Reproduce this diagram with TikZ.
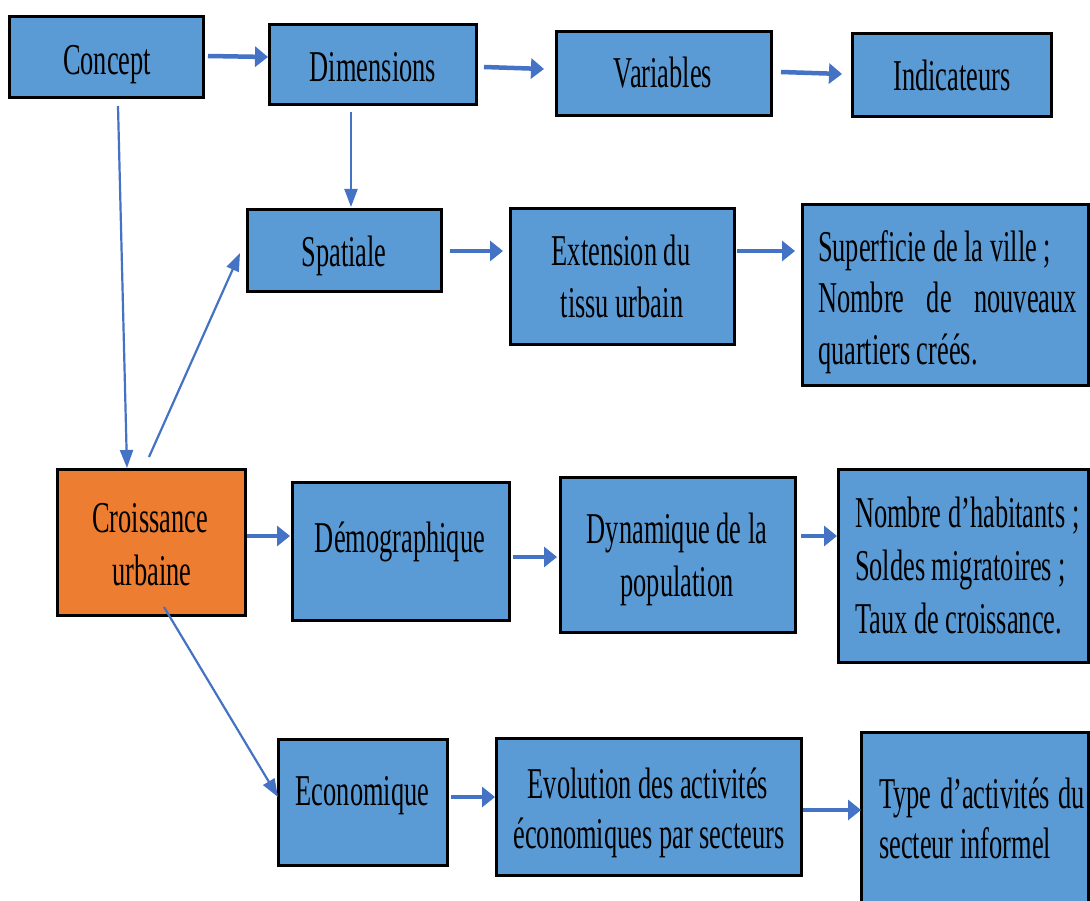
\documentclass[tikz,border=0pt]{standalone}
\usepackage{fontspec}
\setmainfont{Liberation Serif}[FakeStretch=0.6]
\usetikzlibrary{arrows.meta,calc}
\definecolor{boxblue}{HTML}{5B9BD5}
\definecolor{boxorange}{HTML}{ED7D31}
\definecolor{arrowblue}{HTML}{4472C4}
\tikzset{
  box/.style={draw=black, line width=3pt, fill=boxblue, inner sep=0pt, outer sep=0pt},
  obox/.style={box, fill=boxorange},
  txt/.style={font=\fontsize{44}{52}\selectfont, inner sep=0pt, outer sep=0pt, anchor=base, text=black},
  ltxt/.style={txt, anchor=base west},
  thickarrow/.style={draw=arrowblue, line width=4.5pt, -{Triangle[length=13pt,width=20pt]}},
  thinarrow/.style={draw=arrowblue, line width=2.2pt, -{Triangle[length=18pt,width=13pt]}}
}
\begin{document}
\begin{tikzpicture}[x=1pt,y=-1pt]
\fill[white] (0,0) rectangle (1090,901);
\useasboundingbox (0,0) rectangle (1090,901);
% boxes
\node[box, minimum width=194pt, minimum height=81pt] (con) at (106.5,57) {};
\node[box, minimum width=207pt, minimum height=80pt] (dim) at (373,64.5) {};
\node[box, minimum width=215pt, minimum height=84pt] (var) at (664,73.5) {};
\node[box, minimum width=199pt, minimum height=83pt] (ind) at (952,75) {};
\node[box, minimum width=194pt, minimum height=82pt] (spa) at (344.5,250.5) {};
\node[box, minimum width=224pt, minimum height=136pt] (ext) at (622.5,276.5) {};
\node[box, minimum width=286pt, minimum height=181pt] (sup) at (945.5,295) {};
\node[obox, minimum width=188pt, minimum height=146pt] (cro) at (151.5,542.5) {};
\node[box, minimum width=217pt, minimum height=138pt] (dem) at (401,551.5) {};
\node[box, minimum width=235pt, minimum height=155pt] (dyn) at (678,555) {};
\node[box, minimum width=250pt, minimum height=193pt] (nom) at (963.5,566) {};
\node[box, minimum width=169pt, minimum height=126pt] (eco) at (363,802.5) {};
\node[box, minimum width=305pt, minimum height=137pt] (evo) at (649,807) {};
\node[box, minimum width=227pt, minimum height=186pt] (typ) at (975,825.5) {};
% texts
\node[txt] (tcon) at (107,75) {Concept};
\node[txt] (tdim) at (373,82) {Dimensions};
\node[txt] (tvar) at (663,88) {Variables};
\node[txt] (tind) at (952,91) {Indicateurs};
\node[txt] (tspa) at (344,267) {Spatiale};
\node[txt] (text1) at (621,266) {Extension du};
\node[txt] (text2) at (622,318) {tissu urbain};
\node[ltxt] (tsup1) at (818,262) {Superficie de la ville ;};
\node[ltxt] (tsup2) at (818,313) {\hbox to 259pt{Nombre\hfill de\hfill nouveaux}};
\node[ltxt] (tsup3) at (818,365) {quartiers créés.};
\node[txt] (tcro1) at (150,532) {Croissance};
\node[txt] (tcro2) at (152,585) {urbaine};
\node[txt] (tdem) at (400,552) {Démographique};
\node[txt] (tdyn1) at (677,543) {Dynamique de la};
\node[txt] (tdyn2) at (677,596) {population};
\node[ltxt] (tnom1) at (855,527) {Nombre d’habitants ;};
\node[ltxt] (tnom2) at (855,580) {Soldes migratoires ;};
\node[ltxt] (tnom3) at (855,633) {Taux de croissance.};
\node[txt] (teco) at (362.5,805) {Economique};
\node[txt] (tevo1) at (648,798) {Evolution des activités};
\node[txt] (tevo2) at (649,848) {économiques par secteurs};
\node[ltxt] (ttyp1) at (879,808) {\hbox to 206pt{Type\hfill\ d’activités\hfill\ du}};
\node[ltxt] (ttyp2) at (879,858) {secteur informel};
% connectors
\draw[thickarrow] ($(con.east)+(4.5,-1)$) -- ($(dim.west)+(-1.5,-7.5)$);
\draw[thickarrow] ($(dim.east)+(7.5,2.5)$) -- ($(var.west)+(-12.5,-4.5)$);
\draw[thickarrow] ($(var.east)+(9.5,-1.5)$) -- ($(ind.west)+(-10.5,-1)$);
\draw[thinarrow] ($(dim.south)+(-22,7.5)$) -- ($(spa.north)+(6.5,-2.5)$);
\draw[thinarrow] ($(con.south)+(11.5,8.5)$) -- ($(cro.north)+(-24.5,-1.5)$);
\draw[thinarrow] ($(cro.north)+(-2.5,-12.5)$) -- ($(spa.west)+(-7.5,2.5)$);
\draw[thickarrow] ($(spa.east)+(8.5,0.5)$) -- ($(ext.west)+(-7.5,-25.5)$);
\draw[thickarrow] ($(ext.east)+(2.5,-25.5)$) -- ($(sup.west)+(-7.5,-44)$);
\draw[thickarrow] ($(cro.east)+(1.5,-6.5)$) -- ($(dem.west)+(-2.5,-15.5)$);
\draw[thickarrow] ($(dem.east)+(3.5,5.5)$) -- ($(dyn.west)+(-3.5,2)$);
\draw[thickarrow] ($(dyn.east)+(5.5,-19)$) -- ($(nom.west)+(-1.5,-30)$);
\draw[thinarrow] ($(cro.south)+(12.5,-8.5)$) -- ($(eco.west)+(-0.5,-5.5)$);
\draw[thickarrow] ($(eco.east)+(3.5,-5.5)$) -- ($(evo.west)+(-1.5,-10)$);
\draw[thickarrow] ($(evo.east)+(1.5,3)$) -- ($(typ.west)+(-0.5,-15.5)$);
\end{tikzpicture}
\end{document}
